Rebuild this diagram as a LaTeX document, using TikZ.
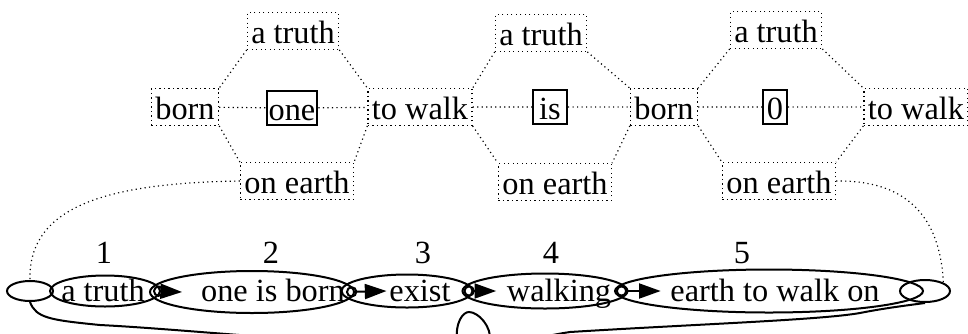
\documentclass[tikz,border=0pt]{standalone}
\usepackage{fontspec}
\setmainfont{Liberation Serif}
\usetikzlibrary{shapes.geometric,arrows.meta}

\begin{document}
\begin{tikzpicture}[x=0.3pt,y=-0.3pt,
  every node/.style={font=\fontsize{9.7}{11}\selectfont},
  dotbox/.style={draw,densely dotted,line width=0.35pt,inner xsep=1.2pt,inner ysep=0pt,minimum height=11pt,text height=0.75em,text depth=0pt},
  word/.style={draw,line width=0.6pt,inner xsep=0.6pt,inner ysep=0pt,minimum height=10pt,minimum width=7.2pt,text height=0.75em,text depth=0pt},
  link/.style={densely dotted,line width=0.35pt},
  blob/.style={draw,ellipse,line width=0.6pt,inner sep=0pt},
  tie/.style={line width=0.6pt,{Circle[open,length=3.4pt,width=3.4pt]}-{Triangle[length=6.5pt,width=4.5pt]}}]
  \useasboundingbox (0,0) rectangle (968,333);
  \clip (0,0) rectangle (968,333);

  \node[dotbox] (a1) at (293,31) {a truth};
  \node[dotbox] (b1) at (185,107) {born};
  \node[word] (c1) at (292,108) {one};
  \node[dotbox] (w1) at (420,107) {to walk};
  \node[dotbox] (o1) at (297,181) {on earth};
  \node[dotbox] (a2) at (541,33) {a truth};
  \node[word,minimum width=10.2pt] (c2) at (550,107) {is};
  \node[dotbox] (b2) at (664,107) {born};
  \node[dotbox] (o2) at (555,182) {on earth};
  \node[dotbox] (a3) at (776,30) {a truth};
  \node[word] (c3) at (775,107) {0};
  \node[dotbox] (w3) at (916,107) {to walk};
  \node[dotbox] (o3) at (779,181) {on earth};

  \foreach \a/\l/\c/\r/\o in {a1/b1/c1/w1/o1, a2/w1/c2/b2/o2, a3/b2/c3/w3/o3}
    \draw[link] (\a.south west) -- (\l.north east) (\l.south east) -- (\o.north west)
      (\a.south east) -- (\r.north west) (\r.south west) -- (\o.north east)
      (\l) -- (\c) -- (\r);

  \node[blob,minimum width=13.8pt,minimum height=6pt] (s0) at (30,291) {};
  \node[blob,minimum width=33pt,minimum height=9.3pt] (e1) at (105,291) {};
  \node[blob,minimum width=61.2pt,minimum height=12.6pt] (e2) at (252,292) {};
  \node[blob,minimum width=39.3pt,minimum height=9.9pt] (e3) at (407,291) {};
  \node[blob,minimum width=49.5pt,minimum height=10.5pt] (e4) at (545,291) {};
  \node[blob,minimum width=92.4pt,minimum height=12.9pt] (e5) at (769,291) {};
  \node[blob,minimum width=15pt,minimum height=6.6pt] (s6) at (925,291) {};

  \node[anchor=base] (t1) at (103,301) {a truth};
  \node[anchor=base] (t2) at (273,301) {one is born};
  \node[anchor=base] (t3) at (420,301) {exist};
  \node[anchor=base] (t4) at (559,301) {walking};
  \node[anchor=base] (t5) at (775,301) {earth to walk on};

  \node[anchor=base] (n1) at (104,263) {1};
  \node[anchor=base] (n2) at (271,263) {2};
  \node[anchor=base] (n3) at (423,263) {3};
  \node[anchor=base] (n4) at (551,263) {4};
  \node[anchor=base] (n5) at (742,263) {5};

  \draw[tie] ([xshift=-2.4pt]e1.east) -- ([xshift=9.9pt]e2.west);
  \draw[tie] ([xshift=-2.7pt]e2.east) -- ([xshift=13.8pt]e3.west);
  \draw[tie] ([xshift=-3pt]e3.east) -- ([xshift=10.4pt]e4.west);
  \draw[tie] ([xshift=-3.8pt]e4.east) -- ([xshift=14pt]e5.west);

  \draw[link] (o1.west) .. controls (110,183) and (28,205) .. (s0.north);
  \draw[link] (o3.east) .. controls (905,180) and (940,215) .. (s6.north east);
  \draw[line width=0.6pt] (s0.south) .. controls (36,318) and (50,320) .. (100,325)
    .. controls (200,330) and (400,352) .. (457,342)
    .. controls (455,322) and (463,312) .. (469,312)
    .. controls (478,312) and (492,326) .. (490,342)
    .. controls (488,352) and (530,338) .. (570,332)
    .. controls (700,324) and (820,320) .. (860,313)
    .. controls (885,308) and (910,305) .. (s6.south);
\end{tikzpicture}
\end{document}
